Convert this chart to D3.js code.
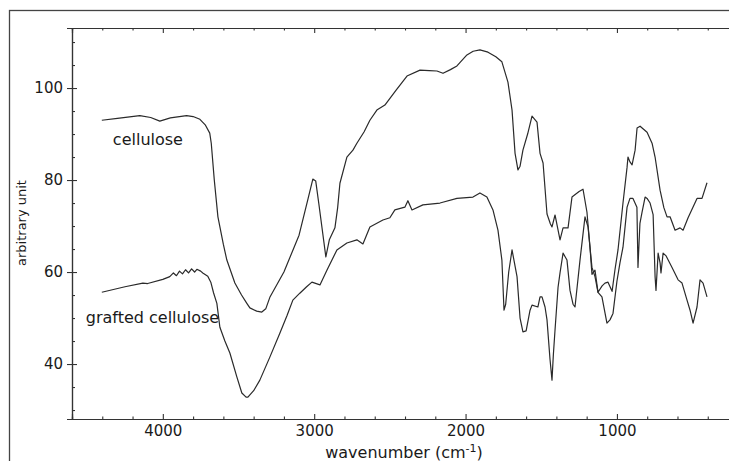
<!DOCTYPE html>
<meta charset="utf-8">
<script src="https://d3js.org/d3.v7.min.js"></script>
<style>
  body { margin: 0; background: #fff; }
  text { font-family: "DejaVu Sans", sans-serif; fill: #1a1a1a; }
</style>
<div id="chart"></div>
<script>

// cellulose spectrum (wavenumber, value)
var celluloseWave = [4403,4300,4152,4080,4020,3950,3843,3800,3755,3720,3690,3680,3660,3636,3600,3577,3524,3480,3445,3425,3380,3346,3320,3293,3200,3100,3040,3009,2990,2970,2923,2900,2863,2845,2830,2784,2744,2718,2670,2632,2586,2533,2460,2387,2301,2240,2189,2149,2100,2057,1991,1950,1905,1852,1800,1760,1720,1693,1673,1654,1640,1621,1590,1561,1528,1508,1488,1462,1440,1429,1409,1376,1356,1323,1297,1250,1224,1198,1178,1165,1145,1125,1098,1079,1059,1032,1013,993,960,933,927,915,900,880,867,847,801,768,748,715,690,669,649,616,583,563,530,471,438,405];
var celluloseValue = [93.0,93.4,94.0,93.6,92.8,93.5,94.0,93.8,93.2,92.0,90.2,88.0,80.0,72.0,66.0,62.6,57.6,55.0,53.2,52.2,51.5,51.3,52.0,54.5,60.0,68.0,76.0,80.2,79.8,75.0,63.3,67.0,69.6,74.0,79.3,85.0,86.5,88.0,90.5,93.0,95.2,96.3,99.5,102.6,103.9,103.8,103.7,103.2,104.0,104.8,107.2,108.0,108.3,107.8,106.8,105.7,101.3,95.2,85.8,82.2,83.0,86.5,90.0,93.9,92.6,85.8,83.7,72.6,70.5,69.8,72.4,67.0,69.6,69.6,76.3,77.5,78.0,73.0,65.4,59.5,60.4,55.6,57.0,57.6,57.8,55.8,60.5,64.8,75.0,82.8,85.0,84.0,83.3,86.5,91.3,91.7,90.4,88.0,85.0,77.8,74.0,72.0,72.0,69.1,69.6,69.1,71.8,76.0,76.0,79.4];

// grafted cellulose spectrum
var graftedWave = [4403,4250,4132,4100,4000,3954,3930,3910,3890,3870,3850,3830,3810,3790,3775,3750,3736,3703,3683,3665,3643,3623,3590,3557,3511,3478,3450,3438,3400,3359,3293,3227,3180,3141,3095,3050,3015,2962,2916,2850,2784,2718,2678,2632,2546,2500,2467,2401,2381,2354,2282,2169,2057,1951,1905,1859,1819,1786,1760,1746,1735,1715,1693,1660,1640,1621,1600,1574,1561,1522,1508,1495,1475,1462,1442,1429,1420,1409,1389,1376,1356,1330,1310,1290,1277,1244,1211,1191,1165,1145,1125,1099,1066,1046,1026,1000,980,960,933,914,894,868,861,854,848,834,814,801,781,761,748,742,735,728,715,709,695,675,636,596,570,537,517,497,471,451,431,405];
var graftedValue = [55.6,56.8,57.6,57.5,58.4,59.0,59.8,59.2,60.2,59.6,60.5,59.8,60.7,60.0,60.6,60.2,59.8,59.1,57.8,55.5,53.2,48.0,45.0,42.4,37.2,33.7,32.8,32.8,34.2,36.5,41.5,46.7,50.5,53.9,55.4,56.8,57.8,57.2,60.4,64.8,66.3,67.0,66.1,69.8,71.3,71.8,73.5,74.1,75.5,73.5,74.6,75.0,76.0,76.3,77.2,76.3,73.5,69.1,62.6,51.7,53.0,60.0,64.8,59.0,50.0,47.0,47.2,51.7,52.8,52.4,54.6,54.6,52.4,49.6,41.0,36.5,42.0,47.4,56.7,59.8,64.1,62.6,56.0,53.0,52.4,62.6,72.0,69.8,61.0,59.0,55.6,54.6,48.9,49.6,51.0,58.0,62.0,65.4,74.1,76.0,76.0,74.1,61.0,66.3,70.6,73.0,76.3,76.0,75.0,72.5,59.0,56.0,60.0,64.1,62.0,59.8,64.1,63.5,61.0,58.3,57.6,53.9,51.7,48.9,52.4,58.3,57.6,54.6];

var xTicks = [4000, 3000, 2000, 1000];
var yTicks = [40, 60, 80, 100];

var labels = [
  {text: "cellulose", wave: 4330, value: 87.6},
  {text: "grafted cellulose", wave: 4509, value: 48.9}
];

var W = 729, H = 461;
var plot = {left: 72, top: 28, right: 740, bottom: 419};

var svg = d3.select("#chart").append("svg")
  .attr("width", W).attr("height", H);

// outer frame
svg.append("rect")
  .attr("x", 9.5).attr("y", 10.5)
  .attr("width", 760).attr("height", 480)
  .attr("fill", "none").attr("stroke", "#444").attr("stroke-width", 1.3);

var x = d3.scaleLinear().domain([4600, 187]).range([plot.left, plot.right]);
var y = d3.scaleLinear().domain([28.05, 113.05]).range([plot.bottom, plot.top]);

var minorX = d3.range(4600, 199, -200).filter(function(d) { return xTicks.indexOf(d) < 0; });
var minorY = d3.range(30, 113, 5).filter(function(d) { return yTicks.indexOf(d) < 0; });

function axisGroup(tx, ty) {
  return svg.append("g").attr("transform", "translate(" + tx + "," + ty + ")");
}

// bottom axis
axisGroup(0, plot.bottom).call(d3.axisBottom(x).tickValues(minorX).tickSize(-2.5).tickFormat(""));
axisGroup(0, plot.bottom).call(d3.axisBottom(x).tickValues(xTicks).tickSize(-5).tickPadding(6).tickFormat(d3.format("d")));
// top axis
axisGroup(0, plot.top).call(d3.axisTop(x).tickValues(minorX).tickSize(-2.5).tickFormat(""));
axisGroup(0, plot.top).call(d3.axisTop(x).tickValues(xTicks).tickSize(-5).tickFormat(""));
// left axis
axisGroup(plot.left, 0).call(d3.axisLeft(y).tickValues(minorY).tickSize(-3).tickFormat(""));
var gl = axisGroup(plot.left, 0).call(d3.axisLeft(y).tickValues(yTicks).tickSize(5).tickPadding(4).tickFormat(d3.format("d")));
gl.selectAll(".tick").append("line").attr("x2", 5);

svg.selectAll(".domain").attr("stroke", "#333").attr("stroke-width", 1.2);
svg.selectAll(".tick line").attr("stroke", "#333").attr("stroke-width", 1.1);
svg.selectAll(".tick text").attr("font-size", 15).attr("fill", "#1a1a1a")
  .attr("font-family", "DejaVu Sans");

var line = d3.line()
  .x(function(d) { return x(d[0]); })
  .y(function(d) { return y(d[1]); });

var series = [
  d3.zip(celluloseWave, celluloseValue),
  d3.zip(graftedWave, graftedValue)
];

svg.selectAll(".spec").data(series).enter().append("path")
  .attr("class", "spec")
  .attr("d", line)
  .attr("fill", "none")
  .attr("stroke", "#2a2a2a")
  .attr("stroke-width", 1.2)
  .attr("stroke-linejoin", "round");

svg.selectAll(".lab").data(labels).enter().append("text")
  .attr("class", "lab")
  .attr("x", function(d) { return x(d.wave); })
  .attr("y", function(d) { return y(d.value); })
  .attr("font-size", 16)
  .text(function(d) { return d.text; });

// axis titles
svg.append("text")
  .attr("transform", "translate(26,223) rotate(-90)")
  .attr("text-anchor", "middle")
  .attr("font-size", 13)
  .text("arbitrary unit");

var xt = svg.append("text")
  .attr("x", 404).attr("y", 458)
  .attr("text-anchor", "middle")
  .attr("font-size", 16);
xt.append("tspan").text("wavenumber (cm");
xt.append("tspan").attr("font-size", 11).attr("dy", -6).text("-1");
xt.append("tspan").attr("dy", 6).text(")");

</script>
